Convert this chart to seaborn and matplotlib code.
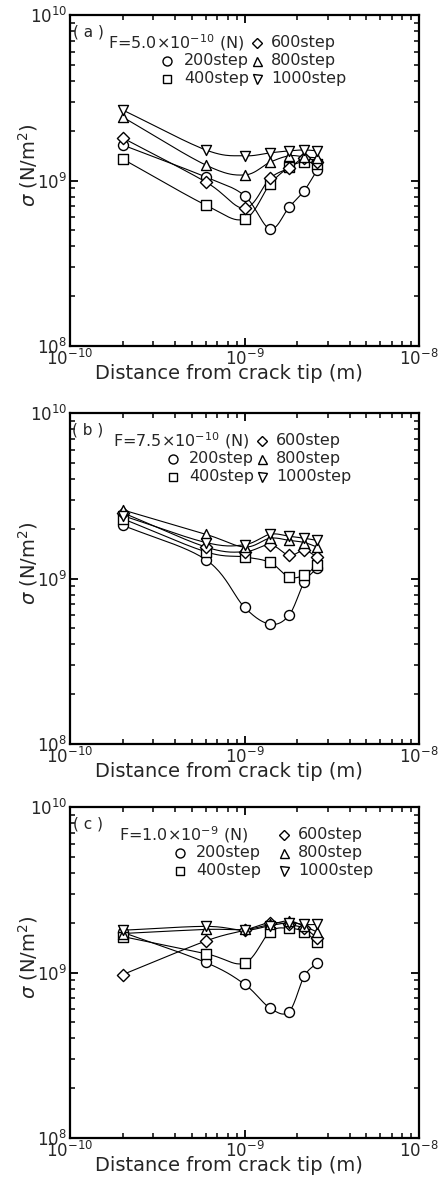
import numpy as np
import matplotlib
matplotlib.use("Agg")
import matplotlib.pyplot as plt
import seaborn as sns
import pandas as pd

# ---------------- data ----------------
distance = [2e-10, 6e-10, 1.0e-9, 1.4e-9, 1.8e-9, 2.2e-9, 2.6e-9]
steps = ["200step", "400step", "600step", "800step", "1000step"]
panel_tags = ["( a )", "( b )", "( c )"]
forces = [r"F=5.0$\times$10$^{-10}$ (N)", r"F=7.5$\times$10$^{-10}$ (N)", r"F=1.0$\times$10$^{-9}$ (N)"]

a_200 = [1.64e9, 1.05e9, 8.1e8, 5.1e8, 6.9e8, 8.7e8, 1.15e9]
a_400 = [1.35e9, 7.1e8, 5.85e8, 9.5e8, 1.2e9, 1.3e9, 1.25e9]
a_600 = [1.81e9, 9.8e8, 6.8e8, 1.03e9, 1.19e9, 1.37e9, 1.29e9]
a_800 = [2.42e9, 1.24e9, 1.08e9, 1.29e9, 1.41e9, 1.39e9, 1.37e9]
a_1000 = [2.67e9, 1.53e9, 1.41e9, 1.47e9, 1.51e9, 1.53e9, 1.51e9]

b_200 = [2.1e9, 1.3e9, 6.7e8, 5.3e8, 6.0e8, 9.5e8, 1.15e9]
b_400 = [2.3e9, 1.45e9, 1.35e9, 1.25e9, 1.02e9, 1.05e9, 1.2e9]
b_600 = [2.5e9, 1.55e9, 1.45e9, 1.6e9, 1.38e9, 1.48e9, 1.35e9]
b_800 = [2.6e9, 1.85e9, 1.55e9, 1.75e9, 1.7e9, 1.65e9, 1.55e9]
b_1000 = [2.4e9, 1.65e9, 1.6e9, 1.85e9, 1.8e9, 1.75e9, 1.7e9]

c_200 = [1.75e9, 1.15e9, 8.5e8, 6.1e8, 5.8e8, 9.5e8, 1.14e9]
c_400 = [1.65e9, 1.3e9, 1.14e9, 1.76e9, 1.85e9, 1.76e9, 1.53e9]
c_600 = [9.7e8, 1.55e9, 1.8e9, 2.0e9, 1.95e9, 1.85e9, 1.62e9]
c_800 = [1.72e9, 1.82e9, 1.82e9, 1.95e9, 2.05e9, 1.9e9, 1.76e9]
c_1000 = [1.8e9, 1.9e9, 1.8e9, 1.92e9, 2.0e9, 1.95e9, 1.95e9]

panels = [
    [a_200, a_400, a_600, a_800, a_1000],
    [b_200, b_400, b_600, b_800, b_1000],
    [c_200, c_400, c_600, c_800, c_1000],
]

# ---------------- style ----------------
sns.set_theme(style="ticks")
plt.rcParams["font.family"] = ["DejaVu Sans"]
plt.rcParams["mathtext.fontset"] = "dejavusans"

marker_map = {"200step": "o", "400step": "s", "600step": "D", "800step": "^", "1000step": "v"}
marker_size = {"200step": 7.2, "400step": 6.6, "600step": 6.2, "800step": 7.2, "1000step": 7.2}

W, H = 443, 1182
fig = plt.figure(figsize=(W / 100, H / 100), dpi=100)
ax_left, ax_right = 70, 419
tops = [15, 413, 807]
ax_h = 331

# legend layout (pixel offsets inside each panel)
col1_marker_x = [167, 173, 180]
col1_text_x = [184, 189, 196]
col2_marker_x = [257, 262, 284]
col2_text_x = [271, 276, 298]
f_text_x = [108, 113, 119]
row_off = [28, 46, 64]


def smooth(xv, yv, n=24):
    lx = np.log10(np.asarray(xv, float))
    ly = np.log10(np.asarray(yv, float))
    P = np.column_stack([lx, ly])
    P = np.vstack([2 * P[0] - P[1], P, 2 * P[-1] - P[-2]])
    out = []
    for i in range(1, len(P) - 2):
        p0, p1, p2, p3 = P[i - 1], P[i], P[i + 1], P[i + 2]
        t = np.linspace(0, 1, n, endpoint=False)[:, None]
        seg = 0.5 * ((2 * p1) + (-p0 + p2) * t + (2 * p0 - 5 * p1 + 4 * p2 - p3) * t ** 2
                     + (-p0 + 3 * p1 - 3 * p2 + p3) * t ** 3)
        out.append(seg)
    out.append(P[-2][None, :])
    out = np.vstack(out)
    return 10 ** out[:, 0], 10 ** out[:, 1]


for k in range(3):
    top = tops[k]
    ax = fig.add_axes([ax_left / W, 1 - (top + ax_h) / H, (ax_right - ax_left) / W, ax_h / H])
    rows = []
    for s, vals in zip(steps, panels[k]):
        xs, ys = smooth(distance, vals)
        sns.lineplot(x=xs, y=ys, ax=ax, color="black", lw=0.8, estimator=None,
                     sort=False, legend=False, zorder=2)
        for xv, yv in zip(distance, vals):
            rows.append({"x": xv, "y": yv, "step": s})
    df = pd.DataFrame(rows)
    for s in steps:
        sub = df[df.step == s]
        sns.scatterplot(data=sub, x="x", y="y", marker=marker_map[s], s=marker_size[s] ** 2,
                        color="white", edgecolor="black", linewidth=1.0, ax=ax,
                        legend=False, zorder=3)

    ax.set_xscale("log")
    ax.set_yscale("log")
    ax.set_xlim(1e-10, 1e-8)
    ax.set_ylim(1e8, 1e10)
    for sp in ax.spines.values():
        sp.set_linewidth(1.6)
        sp.set_color("black")
    ax.tick_params(which="both", direction="in", top=True, right=True, color="black",
                   labelsize=12, pad=2)
    ax.tick_params(which="major", length=6, width=1.3)
    ax.tick_params(which="minor", length=3.5, width=1.1)
    ax.set_xlabel("Distance from crack tip (m)", fontsize=14)
    ax.xaxis.set_label_coords(0.456, -0.055)
    ax.set_ylabel(r"$\sigma$ (N/m$^2$)", fontsize=14)
    ax.yaxis.set_label_coords(-0.085, 0.545)

    def axc(px, py):
        return ((px - ax_left) / (ax_right - ax_left), 1 - py / ax_h)

    ax.text(*axc(88, 17), panel_tags[k], transform=ax.transAxes, fontsize=11,
            ha="center", va="center")
    ax.text(*axc(f_text_x[k], row_off[0]), forces[k], transform=ax.transAxes,
            fontsize=11.5, ha="left", va="center")
    legend_items = [
        (col2_marker_x[k], col2_text_x[k], row_off[0], "600step"),
        (col1_marker_x[k], col1_text_x[k], row_off[1], "200step"),
        (col2_marker_x[k], col2_text_x[k], row_off[1], "800step"),
        (col1_marker_x[k], col1_text_x[k], row_off[2], "400step"),
        (col2_marker_x[k], col2_text_x[k], row_off[2], "1000step"),
    ]
    for mx, tx, ry, lab in legend_items:
        ax.plot(*axc(mx, ry), marker=marker_map[lab], ms=marker_size[lab] * 0.9,
                mfc="white", mec="black", mew=1.0, transform=ax.transAxes, ls="none")
        ax.text(*axc(tx, ry), lab, transform=ax.transAxes, fontsize=11.5,
                ha="left", va="center")

fig.savefig("out.png", dpi=100)
